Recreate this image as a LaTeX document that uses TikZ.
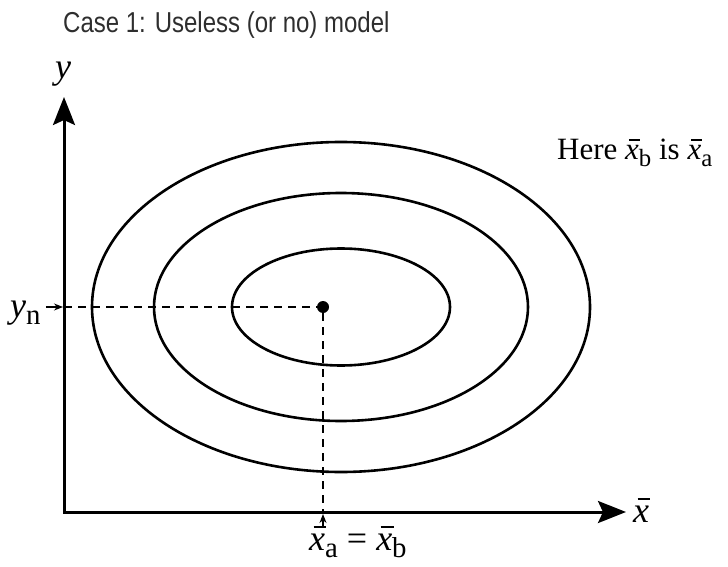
\documentclass[tikz,border=0pt]{standalone}
\usepackage{fontspec}
\setmainfont{Liberation Serif}
\newfontfamily\titlefont{Liberation Sans}
\usetikzlibrary{arrows.meta}
\definecolor{titlegray}{HTML}{2E2E2E}
\newcommand\xbr{\makebox[0pt][l]{\hspace{0.12em}\rule[0.62em]{0.36em}{0.05em}}\textit{x}}
\newcommand\lowsub[1]{\raisebox{-0.22em}{\scalebox{0.8}{#1}}}
\begin{document}
\begin{tikzpicture}[x=1pt,y=-1pt,
  axis/.style={line width=3pt,{Stealth[length=28pt,width=22pt,inset=5pt]}-{Stealth[length=28pt,width=22pt,inset=5pt]}},
  contour/.style={line width=2.6pt},
  guide/.style={line width=1.2pt,dash pattern=on 8pt off 6pt},
  pointer/.style={line width=1.2pt,-{Stealth[length=9pt,width=7pt]}},
  lab/.style={inner sep=0pt,font=\fontsize{36}{40}\selectfont},
]
\useasboundingbox (0,0) rectangle (728,567);
\coordinate (O) at (64,512);
\coordinate (ytip) at (64,97);
\coordinate (xtip) at (626,512);
\coordinate (C) at (341,307);
\coordinate (ya) at (64,307);
\node[circle,fill,inner sep=0pt,minimum size=12pt] (dot) at (323,307) {};
\draw[contour] (C) ellipse [x radius=249pt, y radius=165pt];
\draw[contour] (C) ellipse [x radius=187pt, y radius=114pt];
\draw[contour] (C) ellipse [x radius=109pt, y radius=58.5pt];
\draw[guide] (ya) -- (dot);
\draw[guide] (dot) -- (dot|-O);
\draw[axis] (ytip) -- (O) -- (xtip);
\node[font=\titlefont\fontsize{24}{28}\selectfont, text=titlegray, anchor=base west, inner sep=0pt] (title) at (63,33) {\scalebox{1}[1.2]{Case 1: Useless (or no) model}};
\node[lab, anchor=base] (ylab) at (63,79) {\textit{y}};
\node[lab, anchor=base west] (yn) at (10,317) {\textit{y}\lowsub{n}};
\draw[pointer] ([xshift=5pt]yn.east |- ya) -- ([xshift=-1pt]ya);
\node[lab, anchor=base west] (xlab) at (633,522) {\xbr};
\node[lab, anchor=base west] (xab) at (309,550) {\xbr\lowsub{a} = \xbr\lowsub{b}};
\draw[pointer] ([yshift=-1pt]dot|-xab.north) -- ([yshift=-2pt]dot|-O);
\node[font=\fontsize{31}{36}\selectfont, anchor=base west, inner sep=0pt] (here) at (557,160) {Here \xbr\lowsub{b} is \xbr\lowsub{a}};
\end{tikzpicture}
\end{document}
